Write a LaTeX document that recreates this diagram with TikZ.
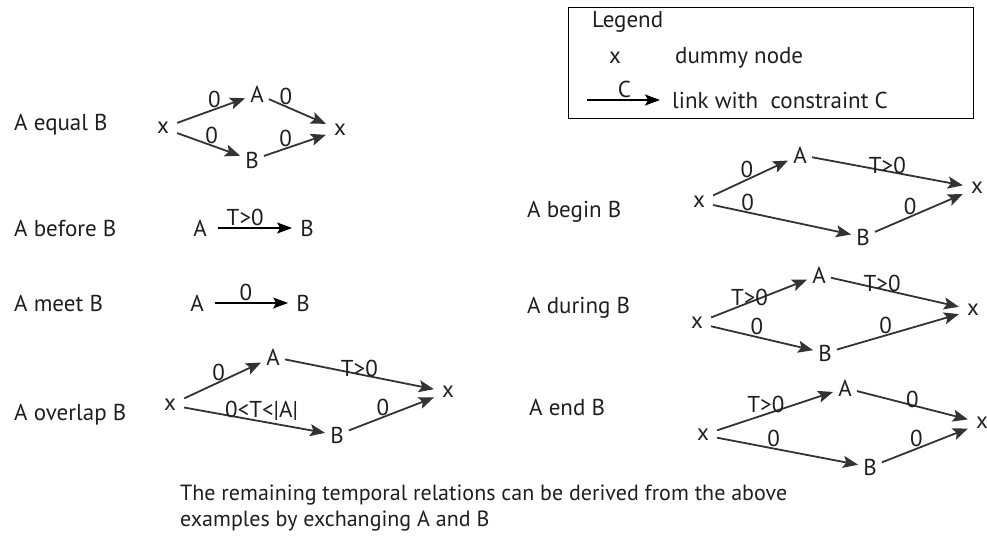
\documentclass[tikz,border=0pt]{standalone}
\usepackage{fontspec}
\setmainfont{PT Sans}
\usetikzlibrary{arrows.meta}

\definecolor{inkgray}{HTML}{333333}

\begin{document}
\begin{tikzpicture}[x=1pt, y=-1pt,
  every node/.style={font=\fontsize{23}{27}\selectfont, text=black!88, inner sep=2pt},
  dummy/.style={inner sep=8pt}, ev/.style={inner sep=5pt},
  lnk/.style={draw=inkgray, line width=1.8pt, -{Stealth[length=15pt,width=12pt,inset=3pt]}},
  blk/.style={draw=black, line width=1.6pt, -{Stealth[length=15pt,width=11pt,inset=3pt]}},
  lbl/.style={above, inner sep=1pt}]
\useasboundingbox (0,0) rectangle (987,552);

% Legend
\node (legend-box) [draw, line width=1.4pt, anchor=north west, minimum width=405, minimum height=111, inner sep=0] at (568,7) {};
\node (legend-title) [anchor=west] at (590,22) {Legend};
\node (legend-x) at (615,58) {x};
\node (legend-dummy) [anchor=west] at (673,58) {dummy node};
\node (legend-link) [anchor=west] at (670,100) {link with\ \ constraint C};
\coordinate (legend-from) at (587,100);
\draw[blk, shorten >=10pt] (legend-from) -- node[lbl, pos=.45] {C} (legend-link);

% A equal B
\node (eq-title) [anchor=west] at (12,125) {A equal B};
\node (eq-x1) [dummy] at (163,128) {x};
\node (eq-a) [ev] at (257,94) {A};
\node (eq-b) [ev] at (252,160) {B};
\node (eq-x2) [dummy] at (340,130) {x};
\draw[lnk] (eq-x1) -- node[lbl, pos=.55] {0} (eq-a);
\draw[lnk] (eq-a) -- node[lbl, pos=.3] {0} (eq-x2);
\draw[lnk] (eq-x1) -- node[lbl, pos=.55] {0} (eq-b);
\draw[lnk] (eq-b) -- node[lbl, pos=.35] {0} (eq-x2);

% A before B
\node (bef-title) [anchor=west] at (12,228) {A before B};
\node (bef-a) [ev] at (200,228) {A};
\node (bef-b) [ev] at (307,228) {B};
\draw[blk, shorten <=6pt, shorten >=3pt] (bef-a) -- node[lbl, pos=.4] {T>0} (bef-b);

% A meet B
\node (meet-title) [anchor=west] at (12,303) {A meet B};
\node (meet-a) [ev] at (197,303) {A};
\node (meet-b) [ev] at (303,303) {B};
\draw[blk, shorten <=6pt, shorten >=3pt] (meet-a) -- node[lbl, pos=.45] {0} (meet-b);

% A overlap B
\node (ovl-title) [anchor=west] at (12,415) {A overlap B};
\node (ovl-x1) [dummy] at (170,405) {x};
\node (ovl-a) [ev] at (273,357) {A};
\node (ovl-b) [ev] at (337,435) {B};
\node (ovl-x2) [dummy] at (448,392) {x};
\draw[lnk] (ovl-x1) -- node[lbl, pos=.45] {0} (ovl-a);
\draw[lnk] (ovl-a) -- node[lbl, pos=.5, yshift=-4] {T>0} (ovl-x2);
\draw[lnk] (ovl-x1) -- node[lbl, pos=.55, yshift=-1] {0<T<|A|} (ovl-b);
\draw[lnk] (ovl-b) -- node[lbl, pos=.4] {0} (ovl-x2);

% A begin B
\node (beg-title) [anchor=west] at (525,212) {A begin B};
\node (beg-x1) [dummy] at (699,202) {x};
\node (beg-a) [ev] at (800,155) {A};
\node (beg-b) [ev] at (863,237) {B};
\node (beg-x2) [dummy] at (977,188) {x};
\draw[lnk] (beg-x1) -- node[lbl, pos=.45] {0} (beg-a);
\draw[lnk] (beg-a) -- node[lbl, pos=.5, yshift=-4] {T>0} (beg-x2);
\draw[lnk] (beg-x1) -- node[lbl, pos=.25] {0} (beg-b);
\draw[lnk] (beg-b) -- node[lbl, pos=.4] {0} (beg-x2);

% A during B
\node (dur-title) [anchor=west] at (525,308) {A during B};
\node (dur-x1) [dummy] at (697,323) {x};
\node (dur-a) [ev] at (819,275) {A};
\node (dur-b) [ev] at (825,353) {B};
\node (dur-x2) [dummy] at (973,310) {x};
\draw[lnk] (dur-x1) -- node[lbl, pos=.4, yshift=-5] {T>0} (dur-a);
\draw[lnk] (dur-a) -- node[lbl, pos=.4, yshift=-4] {T>0} (dur-x2);
\draw[lnk] (dur-x1) -- node[lbl, pos=.45] {0} (dur-b);
\draw[lnk] (dur-b) -- node[lbl, pos=.4] {0} (dur-x2);

% A end B
\node (end-title) [anchor=west] at (527,407) {A end B};
\node (end-x1) [dummy] at (703,435) {x};
\node (end-a) [ev] at (845,388) {A};
\node (end-b) [ev] at (870,467) {B};
\node (end-x2) [dummy] at (982,423) {x};
\draw[lnk] (end-x1) -- node[lbl, pos=.42] {T>0} (end-a);
\draw[lnk] (end-a) -- node[lbl, pos=.5, yshift=-4] {0} (end-x2);
\draw[lnk] (end-x1) -- node[lbl, pos=.4] {0} (end-b);
\draw[lnk] (end-b) -- node[lbl, pos=.4] {0} (end-x2);

% Note
\node (note) [anchor=north west, align=left, font=\fontsize{22}{26}\selectfont] at (178,483) {The remaining temporal relations can be derived from the above\\examples by exchanging A and B};
\end{tikzpicture}
\end{document}
